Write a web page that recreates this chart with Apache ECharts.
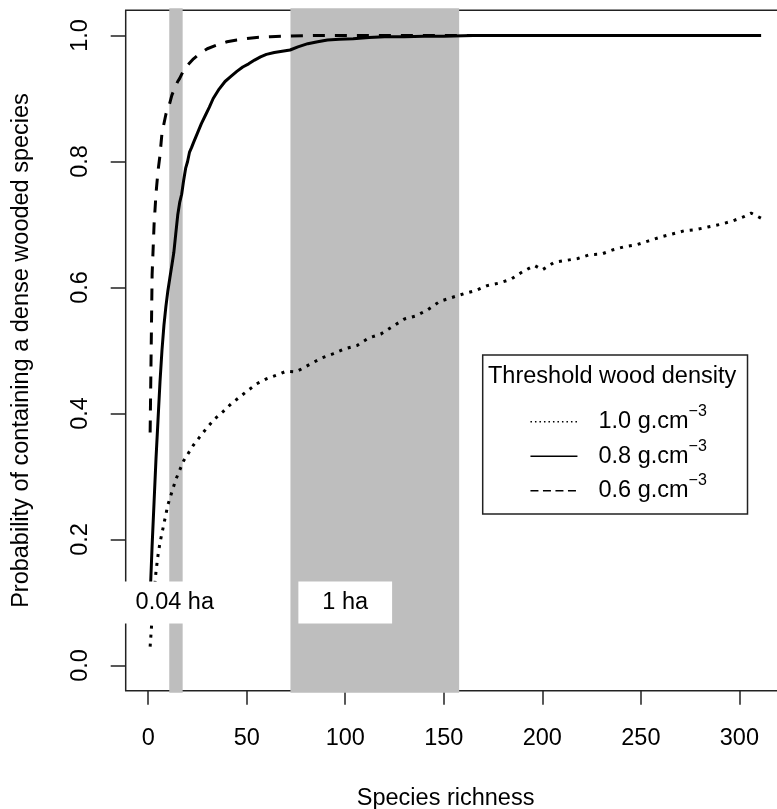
<!DOCTYPE html>
<html>
<head>
<meta charset="utf-8">
<script src="https://cdn.jsdelivr.net/npm/echarts@6/dist/echarts.min.js"></script>
<style>
  html, body { margin: 0; padding: 0; background: #fff; }
  #chart { width: 777px; height: 809px; }
</style>
</head>
<body>
<div id="chart"></div>
<script>
// values: species richness vs probability, one pair per threshold
const richness10 = [1, 2, 3, 4, 5, 6, 7, 8, 9, 10, 12, 14, 16, 18, 20, 23, 26, 30, 34, 38, 42, 46, 50,
  55, 60, 66, 70, 75, 82, 88, 94, 100, 106, 112, 118, 124, 130, 136, 142, 148, 154, 160, 166, 172, 178,
  184, 190, 196, 200, 206, 212, 218, 224, 230, 236, 242, 248, 254, 260, 266, 272, 278, 284, 290, 296,
  302, 306, 311];
const prob10 = [0.03, 0.075, 0.115, 0.15, 0.175, 0.195, 0.21, 0.225, 0.24, 0.255, 0.275, 0.295, 0.31,
  0.325, 0.335, 0.35, 0.362, 0.378, 0.392, 0.403, 0.415, 0.425, 0.435, 0.447, 0.455, 0.462, 0.467,
  0.466, 0.478, 0.488, 0.495, 0.503, 0.508, 0.52, 0.526, 0.538, 0.55, 0.555, 0.565, 0.578, 0.584, 0.59,
  0.595, 0.603, 0.607, 0.613, 0.625, 0.635, 0.628, 0.64, 0.643, 0.646, 0.652, 0.653, 0.66, 0.665,
  0.668, 0.674, 0.68, 0.685, 0.69, 0.692, 0.696, 0.7, 0.705, 0.712, 0.718, 0.71];

const richness08 = [1, 2, 3, 4, 5, 6, 7, 8, 9, 10, 11, 12, 13, 14, 15, 16, 17, 18, 19, 20, 21, 22, 23,
  25, 27, 29, 31, 33, 36, 39, 42, 45, 48, 51, 54, 57, 60, 64, 68, 72, 76, 81, 86, 91, 97, 104, 112, 120,
  130, 140, 150, 165, 311];
const prob08 = [0.11, 0.19, 0.26, 0.33, 0.39, 0.45, 0.5, 0.54, 0.57, 0.595, 0.615, 0.635, 0.655, 0.685,
  0.715, 0.735, 0.748, 0.77, 0.789, 0.8, 0.815, 0.822, 0.83, 0.845, 0.86, 0.873, 0.886, 0.9, 0.915,
  0.927, 0.935, 0.943, 0.95, 0.955, 0.961, 0.966, 0.97, 0.973, 0.975, 0.977, 0.982, 0.987, 0.99, 0.993,
  0.994, 0.995, 0.997, 0.998, 0.998, 0.999, 0.999, 1.0, 1.0];

const richness06 = [1, 2, 3, 4, 5, 6, 7, 8, 9, 10, 11, 12, 13, 14, 15, 16, 18, 20, 23, 26, 30, 35, 40,
  45, 50, 55, 62, 70, 85, 311];
const prob06 = [0.37, 0.62, 0.7, 0.75, 0.785, 0.81, 0.845, 0.86, 0.875, 0.885, 0.893, 0.905, 0.913,
  0.92, 0.927, 0.932, 0.945, 0.953, 0.963, 0.971, 0.979, 0.985, 0.99, 0.993, 0.995, 0.997, 0.998,
  0.999, 1.0, 1.0];

const densityNames = ['1.0 g.cm', '0.8 g.cm', '0.6 g.cm'];
const densityUnitPower = '\u22123';

// shaded plot-size bands (species richness range) and their labels
const bandFrom = [10.7, 72.2];
const bandTo = [17.5, 157.8];
const areaNames = ['0.04 ha', '1 ha'];
const areaX = [13.5, 100];
const areaY = [0.1, 0.1];

const xTicks = [0, 50, 100, 150, 200, 250, 300];
const yTicks = [0, 0.2, 0.4, 0.6, 0.8, 1.0];

const FONT = '"Liberation Sans", Arial, sans-serif';
const FS = 23.5;
const INK = '#222';

const chart = echarts.init(document.getElementById('chart'), null, { renderer: 'canvas' });

const lineSeries = (name, xs, ys, type) => ({
  name: name,
  type: 'line',
  data: xs.map((x, i) => [x, ys[i]]),
  symbol: 'none',
  z: 3,
  lineStyle: { color: '#000', width: 3, type: type, cap: 'butt' },
  itemStyle: { color: '#000' },
});

const option = {
  animation: false,
  backgroundColor: '#fff',
  textStyle: { fontFamily: FONT },
  grid: {
    left: 125.7,
    top: 10.3,
    width: 659.8,
    bottom: 118.3,
    outerBoundsMode: 'none',
    containLabel: false,
    show: true,
    borderColor: INK,
    borderWidth: 1.5,
    backgroundColor: 'transparent',
  },
  xAxis: {
    type: 'value',
    min: -11.4,
    max: 323.4,
    name: 'Species richness',
    nameLocation: 'middle',
    nameGap: 96,
    nameTextStyle: { fontSize: FS, color: '#000', fontFamily: FONT, padding: [0, 20, 0, 0] },
    axisLine: { show: false, onZero: false },
    splitLine: { show: false },
    axisTick: { show: true, inside: false, length: 14, customValues: xTicks, lineStyle: { color: INK, width: 1.5 } },
    axisLabel: { customValues: xTicks, margin: 36, fontSize: FS, color: '#000', fontFamily: FONT },
  },
  yAxis: {
    type: 'value',
    min: -0.04,
    max: 1.04,
    name: 'Probability of containing a dense wooded species',
    nameLocation: 'middle',
    nameGap: 92,
    nameTextStyle: { fontSize: FS, color: '#000', fontFamily: FONT },
    axisLine: { show: false, onZero: false },
    splitLine: { show: false },
    axisTick: { show: true, inside: false, length: 15, customValues: yTicks, lineStyle: { color: INK, width: 1.5 } },
    axisLabel: {
      customValues: yTicks,
      rotate: 90,
      margin: 33,
      fontSize: FS,
      color: '#000',
      fontFamily: FONT,
      formatter: (v) => v.toFixed(1),
    },
  },
  title: {
    text: 'Threshold wood density',
    left: 488,
    top: 365,
    padding: 0,
    textStyle: { fontSize: FS, fontWeight: 'normal', color: '#000', fontFamily: FONT, lineHeight: 24 },
  },
  legend: {
    orient: 'vertical',
    left: 482.7,
    top: 355,
    padding: [45.7, 40.7, 10, 47],
    itemWidth: 47,
    itemHeight: 33,
    itemGap: 0.3,
    borderColor: INK,
    borderWidth: 1.5,
    selectedMode: false,
    itemStyle: { opacity: 0 },
    data: [
      { name: densityNames[0], lineStyle: { width: 1.5, type: [1.5, 3] } },
      { name: densityNames[1], lineStyle: { width: 1.5, type: 'solid' } },
      { name: densityNames[2], lineStyle: { width: 1.5, type: [8, 4.5] } },
    ],
    formatter: (name) => `{b|${name}}{s|${densityUnitPower}}`,
    textStyle: {
      padding: [0, 0, 0, 16],
      color: '#000',
      fontFamily: FONT,
      fontSize: FS,
      rich: {
        b: { fontSize: FS, fontFamily: FONT, color: '#000', lineHeight: 24, padding: [9, 0, 0, 0], verticalAlign: 'bottom' },
        s: { fontSize: 16, fontFamily: FONT, color: '#000', lineHeight: 16, padding: [0, 0, 14, 0], verticalAlign: 'bottom' },
      },
    },
  },
  series: [
    {
      name: 'bands',
      type: 'custom',
      z: 1,
      silent: true,
      clip: false,
      data: bandFrom.map((a, i) => [a, bandTo[i]]),
      renderItem: (params, api) => {
        const box = params.coordSys;
        const x0 = api.coord([api.value(0), 0])[0];
        const x1 = api.coord([api.value(1), 0])[0];
        return {
          type: 'rect',
          shape: { x: x0, y: box.y - 2, width: x1 - x0, height: box.height + 4 },
          style: { fill: '#BEBEBE' },
        };
      },
    },
    lineSeries(densityNames[2], richness06, prob06, [12, 10]),
    lineSeries(densityNames[0], richness10, prob10, [3, 6]),
    lineSeries(densityNames[1], richness08, prob08, 'solid'),
    {
      name: 'areas',
      type: 'scatter',
      z: 5,
      silent: true,
      symbolSize: 0,
      itemStyle: { opacity: 1 },
      data: areaX.map((x, i) => [x, areaY[i], areaNames[i]]),
      label: {
        show: true,
        position: 'inside',
        formatter: (p) => p.data[2],
        backgroundColor: '#fff',
        opacity: 1,
        padding: [9, 24],
        fontSize: FS,
        color: '#000',
        fontFamily: FONT,
      },
    },
  ],
};

chart.setOption(option);
</script>
</body>
</html>
